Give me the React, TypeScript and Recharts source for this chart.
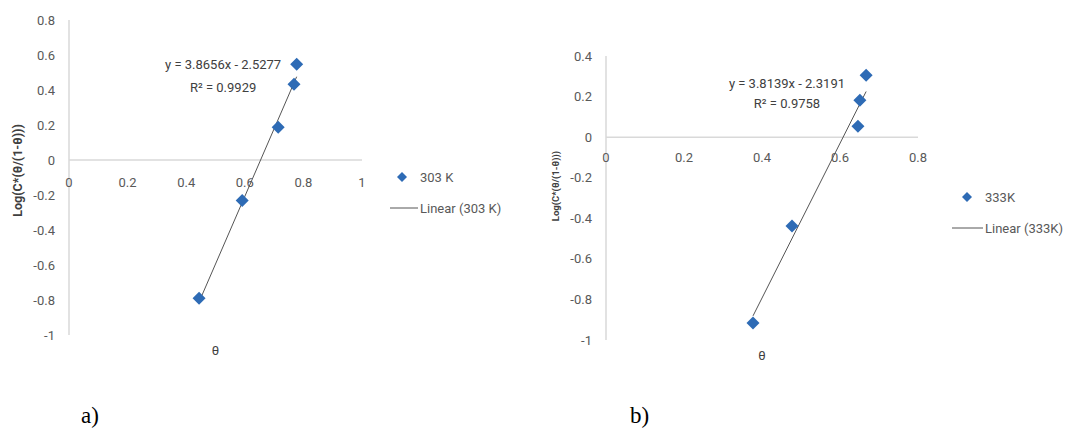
import React from 'react';
import { ScatterChart, Scatter, XAxis, YAxis, ReferenceLine, ReferenceDot, Legend } from 'recharts';

// ---------- data: panel a (303 K) ----------
const thetaA = [0.444, 0.591, 0.714, 0.768, 0.777];
const logA = [-0.79, -0.232, 0.187, 0.433, 0.547];
const trendThetaA = [0.444, 0.777];
const trendLogA = [-0.811, 0.476];
const xTicksA = [0, 0.2, 0.4, 0.6, 0.8, 1];
const yTicksA = [-1, -0.8, -0.6, -0.4, -0.2, 0, 0.2, 0.4, 0.6, 0.8];
const seriesNameA = '303 K';
const trendNameA = 'Linear (303 K)';
const equationA = 'y = 3.8656x - 2.5277';
const r2A = 'R² = 0.9929';

// ---------- data: panel b (333 K) ----------
const thetaB = [0.377, 0.477, 0.646, 0.651, 0.667];
const logB = [-0.916, -0.438, 0.054, 0.182, 0.305];
const trendThetaB = [0.377, 0.667];
const trendLogB = [-0.881, 0.225];
const xTicksB = [0, 0.2, 0.4, 0.6, 0.8];
const yTicksB = [-1, -0.8, -0.6, -0.4, -0.2, 0, 0.2, 0.4];
const seriesNameB = '333K';
const trendNameB = 'Linear (333K)';
const equationB = 'y = 3.8139x - 2.3191';
const r2B = 'R² = 0.9758';

const yLabel = 'Log(C*(θ/(1-θ)))';
const xLabel = 'θ';

const BLUE = '#2E6BB5';
const AXIS = '#D9D9D9';
const TXT = '#595959';
const DARK = '#404040';
const FONT = "Roboto, 'Open Sans', 'Liberation Sans', sans-serif";

const Diamond = (p: any) => {
  const { cx, cy } = p;
  if (cx == null || cy == null) return null;
  const s = 6.5;
  return <polygon points={`${cx},${cy - s} ${cx + s},${cy} ${cx},${cy + s} ${cx - s},${cy}`} fill={BLUE} />;
};

type PanelProps = {
  left: number; width: number;
  margin: { top: number; right: number; bottom: number; left: number };
  yAxisWidth: number;
  theta: number[]; logv: number[]; trendTheta: number[]; trendLog: number[];
  xTicks: number[]; yTicks: number[]; xDomain: [number, number]; yDomain: [number, number];
  seriesName: string; trendName: string; equation: string; r2: string;
  eqAt: { x: number; y: number }; eqGap: number;
  tickLabelDy: number;
  yLabelX: number; yLabelDy: number; yLabelSize: number;
  legendLeft: number; legendTop: number; legendLineStart: number;
};

const Panel = (c: PanelProps) => {
  const pts = c.theta.map((x, i) => ({ x, y: c.logv[i] }));
  const trend = c.trendTheta.map((x, i) => ({ x, y: c.trendLog[i] }));
  return (
    <div style={{ position: 'absolute', left: c.left, top: 0 }}>
      <ScatterChart width={c.width} height={433} margin={c.margin}>
        <XAxis
          type="number" dataKey="x" domain={c.xDomain} ticks={c.xTicks}
          axisLine={false} tickLine={false} tick={false} height={20}
          label={{
            content: (p: any) => {
              const vb = p.viewBox || {};
              return (
                <text x={vb.x + vb.width / 2} y={vb.y + 15} textAnchor="middle" dominantBaseline="central"
                  fontFamily={FONT} fontSize={13} fill={DARK}>{xLabel}</text>
              );
            },
          }}
        />
        <YAxis
          type="number" dataKey="y" domain={c.yDomain} ticks={c.yTicks} width={c.yAxisWidth}
          axisLine={{ stroke: AXIS, strokeWidth: 1.5 }} tickLine={false} tickMargin={8}
          tick={{ fill: TXT, fontSize: 13, fontFamily: FONT }}
          interval={0}
          label={{
            content: (p: any) => {
              const vb = p.viewBox || {};
              const cy = vb.y + vb.height / 2 + c.yLabelDy;
              return (
                <text x={c.yLabelX} y={cy} transform={`rotate(-90, ${c.yLabelX}, ${cy})`} textAnchor="middle"
                  dominantBaseline="central" fontFamily={FONT} fontWeight="bold" fontSize={c.yLabelSize} fill={DARK}>
                  {yLabel}
                </text>
              );
            },
          }}
        />
        <ReferenceLine y={0} stroke={AXIS} strokeWidth={1.5} />
        {c.xTicks.map((t) => (
          <ReferenceDot key={t} x={t} y={0} r={0} ifOverflow="visible"
            shape={(p: any) => (
              <text x={p.cx} y={p.cy + c.tickLabelDy} textAnchor="middle" dominantBaseline="central"
                fontFamily={FONT} fontSize={13} fill={TXT}>{String(t)}</text>
            )}
          />
        ))}
        <ReferenceLine
          segment={[trend[0], trend[1]]}
          stroke="#555555" strokeWidth={1} ifOverflow="visible"
        />
        <Scatter name={c.seriesName} data={pts} shape={Diamond} isAnimationActive={false} />
        <ReferenceDot x={c.eqAt.x} y={c.eqAt.y} r={0} ifOverflow="visible"
          shape={(p: any) => (
            <g fontFamily={FONT} fontSize={13} fill={DARK}>
              <text x={p.cx} y={p.cy} textAnchor="middle" dominantBaseline="central">{c.equation}</text>
              <text x={p.cx} y={p.cy + c.eqGap} textAnchor="middle" dominantBaseline="central">{c.r2}</text>
            </g>
          )}
        />
        <Legend
          layout="vertical" align="center" verticalAlign="middle"
          wrapperStyle={{ left: c.legendLeft, top: c.legendTop, width: 170, height: 60 }}
          content={() => (
            <svg width={170} height={60} style={{ overflow: 'visible' }}>
              <polygon points="14,7 19,12 14,17 9,12" fill={BLUE} />
              <text x={32} y={12} dominantBaseline="central" fontFamily={FONT} fontSize={13} fill={TXT}>{c.seriesName}</text>
              <line x1={c.legendLineStart} y1={43} x2={30} y2={43} stroke="#555555" strokeWidth={1} />
              <text x={32} y={43} dominantBaseline="central" fontFamily={FONT} fontSize={13} fill={TXT}>{c.trendName}</text>
            </svg>
          )}
        />
      </ScatterChart>
    </div>
  );
};

export default function App() {
  return (
    <div style={{ position: 'absolute', left: 0, top: 0, width: 1068, height: 433, background: '#fff', overflow: 'hidden' }}>
      <Panel
        left={0} width={530}
        margin={{ top: 20, right: 168, bottom: 78, left: 0 }} yAxisWidth={69}
        theta={thetaA} logv={logA} trendTheta={trendThetaA} trendLog={trendLogA}
        xTicks={xTicksA} yTicks={yTicksA} xDomain={[0, 1]} yDomain={[-1, 0.8]}
        seriesName={seriesNameA} trendName={trendNameA} equation={equationA} r2={r2A}
        eqAt={{ x: 0.526, y: 0.547 }} eqGap={23}
        tickLabelDy={22}
        yLabelX={17} yLabelDy={-7} yLabelSize={12.5}
        legendLeft={388} legendTop={165} legendLineStart={2}
      />
      <Panel
        left={530} width={538}
        margin={{ top: 56, right: 150, bottom: 73, left: 0 }} yAxisWidth={76}
        theta={thetaB} logv={logB} trendTheta={trendThetaB} trendLog={trendLogB}
        xTicks={xTicksB} yTicks={yTicksB} xDomain={[0, 0.8]} yDomain={[-1, 0.4]}
        seriesName={seriesNameB} trendName={trendNameB} equation={equationB} r2={r2B}
        eqAt={{ x: 0.464, y: 0.266 }} eqGap={20}
        tickLabelDy={20}
        yLabelX={25} yLabelDy={-12} yLabelSize={9.5}
        legendLeft={423} legendTop={185} legendLineStart={-1}
      />
      <div style={{ position: 'absolute', left: 81, top: 403, fontFamily: "'Liberation Serif', 'Times New Roman', serif", fontSize: 23, color: '#000' }}>a)</div>
      <div style={{ position: 'absolute', left: 630, top: 403, fontFamily: "'Liberation Serif', 'Times New Roman', serif", fontSize: 23, color: '#000' }}>b)</div>
    </div>
  );
}
